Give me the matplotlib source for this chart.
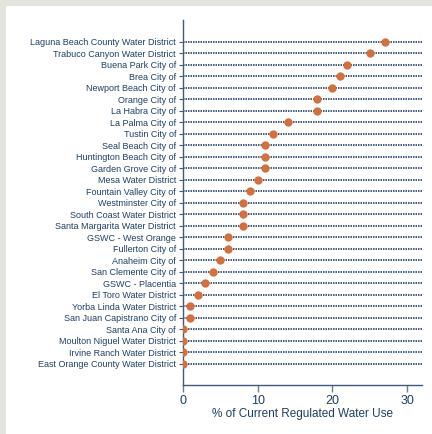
import matplotlib
matplotlib.use("Agg")
import matplotlib.pyplot as plt
from matplotlib.patches import Rectangle

suppliers = [
    "Laguna Beach County Water District",
    "Trabuco Canyon Water District",
    "Buena Park City of",
    "Brea City of",
    "Newport Beach City of",
    "Orange City of",
    "La Habra City of",
    "La Palma City of",
    "Tustin City of",
    "Seal Beach City of",
    "Huntington Beach City of",
    "Garden Grove City of",
    "Mesa Water District",
    "Fountain Valley City of",
    "Westminster City of",
    "South Coast Water District",
    "Santa Margarita Water District",
    "GSWC - West Orange",
    "Fullerton City of",
    "Anaheim City of",
    "San Clemente City of",
    "GSWC - Placentia",
    "El Toro Water District",
    "Yorba Linda Water District",
    "San Juan Capistrano City of",
    "Santa Ana City of",
    "Moulton Niguel Water District",
    "Irvine Ranch Water District",
    "East Orange County Water District",
]
values = [27, 25, 22, 21, 20, 18, 18, 14, 12, 11, 11, 11, 10, 9, 8, 8, 8, 6, 6, 5, 4, 3, 2, 1, 1, 0, 0, 0, 0]
xticks = [0, 10, 20, 30]
xlabel = "% of Current Regulated Water Use"

plt.rcParams['font.family'] = ['Liberation Sans', 'DejaVu Sans']

fig = plt.figure(figsize=(4.32, 4.34), dpi=100)
fig.patch.set_facecolor('#e4e4df')
fig.patches.append(Rectangle((6/432, 0), 1, 1 - 6/434, transform=fig.transFigure,
                             facecolor='white', edgecolor='none', zorder=-10))

ax = fig.add_axes([183/432, 49/434, (422-183)/432, (414-49)/434])
ax.set_facecolor('none')

n = len(suppliers)
ypos = list(range(n))
navy = '#1e3f63'
axcol = '#3f5b78'
for y in ypos:
    ax.plot([0, 32], [y, y], color=navy, lw=1.2, linestyle=(0, (0.9, 0.6)),
            zorder=1, solid_capstyle='butt', dash_capstyle='butt')
ax.plot(values, ypos, 'o', color='#d3703f', markersize=6.0, markeredgewidth=0, zorder=3)

ax.set_xlim(0, 32)
ax.set_ylim(n - 1 + 1.83, -1.91)
ax.set_yticks(ypos)
ax.set_yticklabels(suppliers, fontsize=6.45, color=navy)
ax.set_xticks(xticks)
ax.set_xticklabels([str(t) for t in xticks], fontsize=9, color=navy)
ax.set_xlabel(xlabel, fontsize=8.5, color=navy, labelpad=1)

for s in ['top', 'right']:
    ax.spines[s].set_visible(False)
for s in ['left', 'bottom']:
    ax.spines[s].set_color(axcol)
    ax.spines[s].set_linewidth(1.0)
ax.tick_params(axis='y', length=3, width=0.8, color=axcol, pad=2)
ax.tick_params(axis='x', length=5, width=1.0, color='#6b7d8e', pad=2)

fig.savefig('out.png', dpi=100, facecolor=fig.get_facecolor())
